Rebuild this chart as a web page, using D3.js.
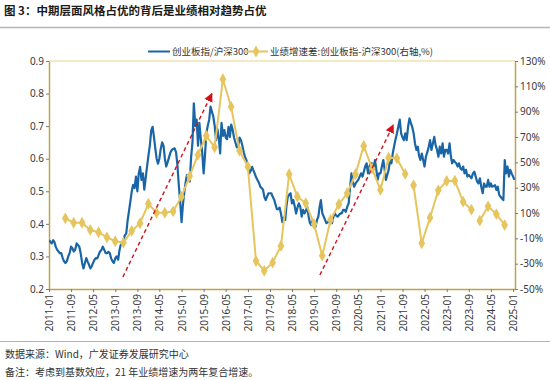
<!DOCTYPE html>
<html><head><meta charset="utf-8">
<script src="https://cdn.jsdelivr.net/npm/d3@7"></script>
<style>body{margin:0;background:#fff}svg{display:block}</style>
</head><body>
<svg id="chart" width="550" height="380"></svg>
<script>
// ---------------- DATA ----------------
const titleText = "图 3：中期层面风格占优的背后是业绩相对趋势占优";
const seriesNames = ["创业板指/沪深300", "业绩增速差:创业板指-沪深300(右轴,%)"];
const sourceText = "数据来源：Wind，广发证券发展研究中心";
const noteText = "备注：考虑到基数效应，21 年业绩增速为两年复合增速。";

// 创业板指/沪深300, semi-monthly readings (1st and 16th of each month) starting 2011-01
const ratioStart = "2011-01";
const ratioValues = [
0.350,0.345,0.340,0.350,0.345,0.330,0.320,0.315,0.310,0.310,0.295,0.285,
0.280,0.285,0.300,0.310,0.330,0.325,0.315,0.320,0.340,0.335,0.330,0.310,
0.280,0.263,0.280,0.295,0.285,0.275,0.263,0.270,0.280,0.290,0.295,0.294,
0.305,0.315,0.320,0.330,0.320,0.310,0.310,0.314,0.310,0.294,0.285,0.280,
0.295,0.300,0.290,0.320,0.335,0.340,0.350,0.365,0.370,0.410,0.440,0.470,
0.500,0.520,0.510,0.545,0.500,0.555,0.575,0.535,0.555,0.505,0.540,0.575,
0.610,0.640,0.688,0.698,0.670,0.635,0.600,0.585,0.600,0.630,0.650,0.640,
0.600,0.576,0.590,0.605,0.620,0.627,0.630,0.632,0.620,0.580,0.520,0.470,
0.405,0.460,0.500,0.530,0.550,0.550,0.530,0.605,0.650,0.770,0.700,0.720,
0.640,0.710,0.660,0.620,0.555,0.610,0.680,0.700,0.720,0.760,0.745,0.730,
0.700,0.657,0.690,0.660,0.616,0.710,0.670,0.688,0.665,0.660,0.698,0.667,
0.705,0.690,0.665,0.650,0.635,0.640,0.665,0.657,0.640,0.620,0.605,0.595,
0.580,0.555,0.563,0.575,0.565,0.555,0.543,0.535,0.527,0.515,0.510,0.505,
0.483,0.473,0.485,0.494,0.494,0.494,0.483,0.475,0.460,0.445,0.445,0.450,
0.430,0.405,0.420,0.412,0.453,0.483,0.490,0.494,0.463,0.473,0.453,0.432,
0.450,0.463,0.453,0.422,0.443,0.432,0.440,0.453,0.422,0.402,0.396,0.412,
0.400,0.391,0.412,0.422,0.450,0.473,0.432,0.422,0.412,0.402,0.405,0.407,
0.412,0.402,0.422,0.432,0.425,0.422,0.427,0.432,0.432,0.443,0.443,0.437,
0.453,0.463,0.514,0.555,0.530,0.514,0.524,0.530,0.535,0.545,0.555,0.545,
0.560,0.576,0.586,0.555,0.576,0.586,0.586,0.566,0.596,0.566,0.535,0.555,
0.555,0.576,0.596,0.566,0.535,0.550,0.566,0.596,0.586,0.616,0.640,0.660,
0.678,0.698,0.720,0.678,0.665,0.657,0.678,0.657,0.698,0.724,0.710,0.698,
0.678,0.647,0.627,0.637,0.610,0.596,0.616,0.596,0.576,0.606,0.620,0.637,
0.657,0.627,0.647,0.667,0.640,0.627,0.606,0.637,0.616,0.647,0.606,0.627,
0.627,0.616,0.647,0.606,0.586,0.596,0.590,0.586,0.576,0.586,0.570,0.566,
0.576,0.555,0.566,0.545,0.550,0.545,0.540,0.555,0.560,0.545,0.530,0.524,
0.540,0.514,0.494,0.524,0.514,0.514,0.535,0.514,0.524,0.514,0.516,0.519,
0.504,0.514,0.489,0.483,0.478,0.473,0.596,0.555,0.576,0.545,0.566,0.555,
0.545,0.535
];

// 业绩增速差 (%), quarterly (quarter-end) starting 2011-06
const growthStart = "2011-06";
const growthValues = [
5.8,2.3,2.3,-3.4,-5.2,-9.2,-12.3,-13.4,-4.2,1.9,
17.3,10.2,10.2,11.3,22.9,39.2,55.8,71.0,61.9,115.6,
93.9,59.2,46.6,-27.9,-35.6,-29.2,-16.0,40.6,22.9,17.7,
1.3,-23.7,4.5,16.9,25.6,40.6,62.9,45.3,28.2,53.7,
53.2,40.8,31.9,-13.9,6.3,27.9,35.3,35.5,18.9,12.6,
3.9,15.3,9.2,0.5
];
// quarters where the line is not joined to the previous point
const growthBreaks = ["2021-12", "2023-12"];

const xTickLabels = ["2011-01","2011-09","2012-05","2013-01","2013-09","2014-05","2015-01",
"2015-09","2016-05","2017-01","2017-09","2018-05","2019-01","2019-09","2020-05","2021-01",
"2021-09","2022-05","2023-01","2023-09","2024-05","2025-01"];
const leftTicks = [0.2,0.3,0.4,0.5,0.6,0.7,0.8,0.9];
const rightTicks = [-50,-30,-10,10,30,50,70,90,110,130];

// trend arrows on the left axis scale: [date, value] -> [date, value]
const trendArrows = [
  {from:["2013-03-25",0.237], to:["2015-12-01",0.800]},
  {from:["2019-03-05",0.243], to:["2021-05-22",0.704]}
];

// ---------------- CHART ----------------
const W = 550, H = 380;
const M = {left:49, right:515, top:61, bottom:289};
const BLUE = "#1a65a6", GOLD = "#e6c55f", AXIS = "#bfa445", RED = "#d0121b";
const FONT = "'Noto Sans CJK SC','Noto Sans',sans-serif";

const svg = d3.select("#chart");
const parseYM = d3.timeParse("%Y-%m");
const parseD = d3.timeParse("%Y-%m-%d");

const x = d3.scaleTime()
  .domain([parseD("2011-01-01"), parseD("2025-01-22")])
  .range([M.left, M.right]);
const yL = d3.scaleLinear().domain([0.2, 0.9]).range([M.bottom, M.top]);
const yR = d3.scaleLinear().domain([-50, 130]).range([M.bottom, M.top]);

// data objects
const r0 = parseYM(ratioStart);
const ratioData = ratioValues.map((v, i) => {
  const d = d3.timeMonth.offset(r0, Math.floor(i / 2));
  if (i % 2) d.setDate(16);
  return {date: d, value: v};
});
const g0 = parseYM(growthStart);
const fmtYM = d3.timeFormat("%Y-%m");
const growthData = growthValues.map((v, i) => {
  const monthStart = d3.timeMonth.offset(g0, i * 3);
  const end = d3.timeDay.offset(d3.timeMonth.offset(monthStart, 1), -1);
  return {date: end, key: fmtYM(monthStart), value: v};
});
// split into segments
const segments = [];
growthData.forEach(d => {
  if (!segments.length || growthBreaks.includes(d.key)) segments.push([]);
  segments[segments.length - 1].push(d);
});

// title
svg.append("text").attr("x", 4).attr("y", 15)
  .attr("font-family", FONT).attr("font-size", 11.5).attr("font-weight", "bold")
  .attr("fill", "#1a1a1a").style("white-space", "pre").text(titleText);
svg.append("line").attr("x1", 0).attr("x2", W).attr("y1", 27.5).attr("y2", 27.5)
  .attr("stroke", "#b5b5b5").attr("stroke-width", 1.5);

// top frame line
svg.append("line").attr("x1", M.left).attr("x2", M.right).attr("y1", M.top).attr("y2", M.top)
  .attr("stroke", "#e8d68c").attr("stroke-width", 1.2);

// axes
function styleAxis(g) {
  g.select(".domain").attr("stroke", AXIS).attr("stroke-width", 1.5);
  g.selectAll(".tick line").attr("stroke", "#7a7a7a");
  g.selectAll(".tick text").attr("fill", "#3a3a3a")
    .attr("font-family", "'Noto Sans','Open Sans',sans-serif").attr("font-size", 10);
}
const gL = svg.append("g").attr("transform", `translate(${M.left},0)`)
  .call(d3.axisLeft(yL).tickValues(leftTicks).tickFormat(d3.format(".1f")).tickSize(3).tickPadding(2).tickSizeOuter(0));
styleAxis(gL);
const gR = svg.append("g").attr("transform", `translate(${M.right},0)`)
  .call(d3.axisRight(yR).tickValues(rightTicks).tickFormat(d => d + "%").tickSize(3).tickPadding(2).tickSizeOuter(0));
styleAxis(gR);
const gB = svg.append("g").attr("transform", `translate(0,${M.bottom})`)
  .call(d3.axisBottom(x).tickValues(xTickLabels.map(parseYM)).tickFormat(fmtYM).tickSize(3).tickSizeOuter(0));
styleAxis(gB);
gB.selectAll(".tick text")
  .attr("transform", "rotate(-90)")
  .attr("text-anchor", "end")
  .attr("x", -5).attr("y", 0).attr("dy", "0.35em");

// clip
svg.append("clipPath").attr("id", "plot").append("rect")
  .attr("x", M.left).attr("y", M.top - 5).attr("width", M.right - M.left).attr("height", M.bottom - M.top + 5);

// blue line
svg.append("path").datum(ratioData)
  .attr("clip-path", "url(#plot)")
  .attr("fill", "none").attr("stroke", BLUE).attr("stroke-width", 2.2).attr("stroke-linejoin", "round")
  .attr("d", d3.line().x(d => x(d.date)).y(d => yL(d.value)));

// gold line
const gLine = d3.line().x(d => x(d.date)).y(d => yR(d.value));
svg.append("g").selectAll("path").data(segments).join("path")
  .attr("fill", "none").attr("stroke", GOLD).attr("stroke-width", 2)
  .attr("d", gLine);
const diamond = d3.symbol().type(d3.symbolDiamond).size(40);
svg.append("g").selectAll("path").data(growthData).join("path")
  .attr("transform", d => `translate(${x(d.date)},${yR(d.value)})`)
  .attr("d", diamond).attr("fill", GOLD);

// arrows
const defs = svg.append("defs");
defs.append("marker").attr("id", "arrowHead").attr("viewBox", "0 0 10 10")
  .attr("refX", 9).attr("refY", 5).attr("markerWidth", 9).attr("markerHeight", 9)
  .attr("markerUnits", "userSpaceOnUse").attr("orient", "auto")
  .append("path").attr("d", "M0,0 L10,5 L0,10 Z").attr("fill", RED);
svg.append("g").selectAll("line").data(trendArrows).join("line")
  .attr("x1", d => x(parseD(d.from[0]))).attr("y1", d => yL(d.from[1]))
  .attr("x2", d => x(parseD(d.to[0]))).attr("y2", d => yL(d.to[1]))
  .attr("stroke", RED).attr("stroke-width", 1.4).attr("stroke-dasharray", "4,3")
  .attr("marker-end", "url(#arrowHead)");

// legend
const lg = svg.append("g").attr("font-family", FONT).attr("font-size", 9.5).attr("fill", "#333");
lg.append("line").attr("x1", 148).attr("x2", 170).attr("y1", 51.5).attr("y2", 51.5)
  .attr("stroke", BLUE).attr("stroke-width", 2);
lg.append("text").attr("x", 172).attr("y", 55).text(seriesNames[0]);
lg.append("line").attr("x1", 244).attr("x2", 268).attr("y1", 51.5).attr("y2", 51.5)
  .attr("stroke", GOLD).attr("stroke-width", 2);
lg.append("path").attr("transform", "translate(256,51.5)").attr("d", diamond).attr("fill", GOLD);
lg.append("text").attr("x", 270).attr("y", 55).text(seriesNames[1]);

// footer
svg.append("line").attr("x1", 0).attr("x2", W).attr("y1", 341.5).attr("y2", 341.5)
  .attr("stroke", "#b5b5b5").attr("stroke-width", 1.2);
svg.append("text").attr("x", 5).attr("y", 358).attr("font-family", FONT).attr("font-size", 10)
  .attr("fill", "#333").text(sourceText);
svg.append("text").attr("x", 5).attr("y", 376).attr("font-family", FONT).attr("font-size", 10)
  .attr("fill", "#333").style("white-space", "pre").text(noteText);
</script>
</body></html>
